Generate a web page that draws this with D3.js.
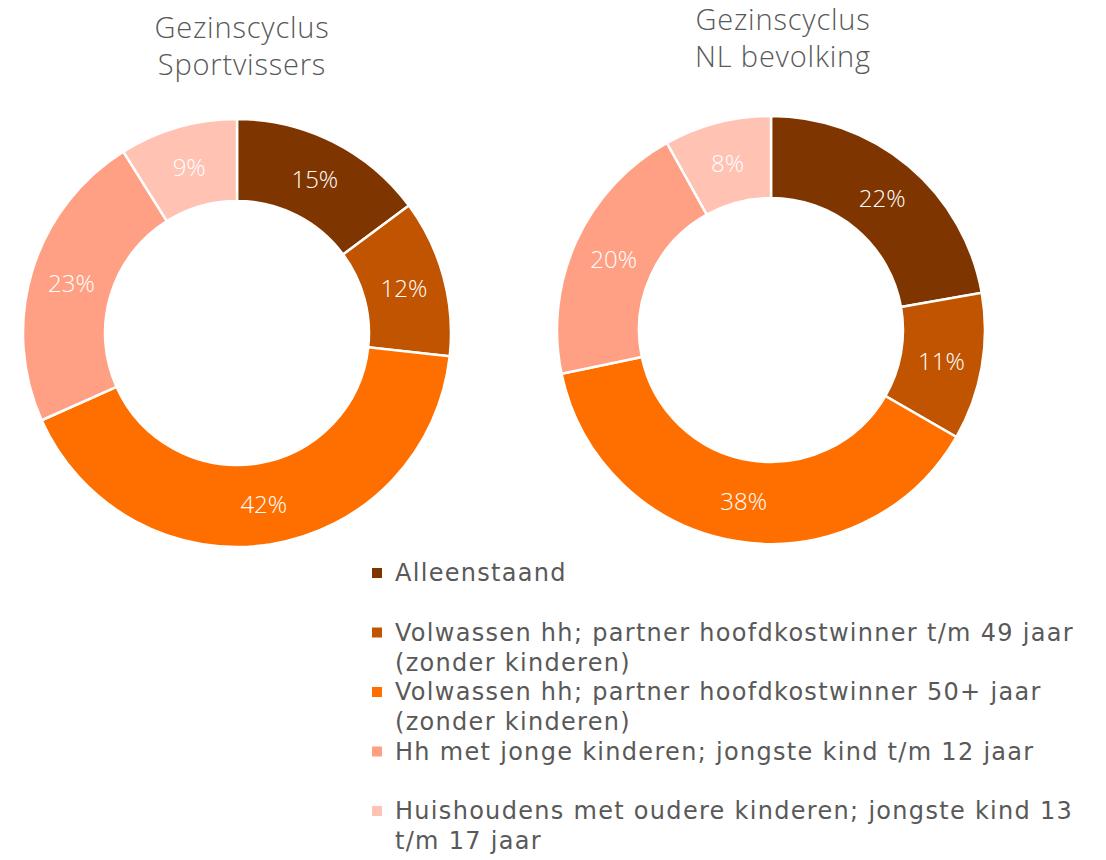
<!DOCTYPE html>
<html>
<head>
<meta charset="utf-8">
<script src="https://cdn.jsdelivr.net/npm/d3@7"></script>
<style>
  body { margin: 0; background: #fff; }
  text { font-family: "Open Sans", "DejaVu Sans", sans-serif; }
</style>
</head>
<body>
<svg id="chart"></svg>
<script>
// categories (legend), with the wrap points of the original legend
const categories = [
  'Alleenstaand',
  'Volwassen hh; partner hoofdkostwinner t/m 49 jaar\n(zonder kinderen)',
  'Volwassen hh; partner hoofdkostwinner 50+ jaar\n(zonder kinderen)',
  'Hh met jonge kinderen; jongste kind t/m 12 jaar',
  'Huishoudens met oudere kinderen; jongste kind 13\nt/m 17 jaar'
]
const colors = ['#7f3500', '#c15400', '#ff6f00', '#ffa084', '#ffc2b3']

const titles = [
  ['Gezinscyclus', 'Sportvissers'],
  ['Gezinscyclus', 'NL bevolking']
]
const sportvissers = [15, 12, 42, 23, 9]
const nlBevolking = [22, 11, 38, 20, 8]

const width = 1106
const height = 860
const svg = d3.select('#chart').attr('width', width).attr('height', height)

const outerR = 214
const innerR = 132

const donuts = [
  {cx: 237, cy: 333, titleX: 242, titleY: 26, values: sportvissers, title: titles[0]},
  {cx: 771, cy: 330, titleX: 783, titleY: 18, values: nlBevolking, title: titles[1]}
]

const pie = d3.pie().sort(null).value(d => d)
const arc = d3.arc().innerRadius(innerR).outerRadius(outerR)
const labelArc = d3.arc().innerRadius((innerR + outerR) / 2).outerRadius((innerR + outerR) / 2)

donuts.forEach(function (dn) {
  // titel
  svg.append('g')
    .selectAll('text')
    .data(dn.title)
    .join('text')
    .attr('x', dn.titleX)
    .attr('y', (d, i) => dn.titleY + i * 37)
    .attr('text-anchor', 'middle')
    .attr('dominant-baseline', 'central')
    .attr('fill', '#595959')
    .style('font-size', '29px')
    .style('font-weight', 300)
    .style('letter-spacing', '0.8px')
    .text(d => d)

  const g = svg.append('g').attr('transform', 'translate(' + dn.cx + ',' + dn.cy + ')')
  const arcs = pie(dn.values)

  g.selectAll('path')
    .data(arcs)
    .join('path')
    .attr('d', arc)
    .attr('fill', (d, i) => colors[i])
    .attr('stroke', '#fff')
    .attr('stroke-width', 2.5)

  g.selectAll('text')
    .data(arcs)
    .join('text')
    .attr('transform', d => 'translate(' + labelArc.centroid(d) + ')')
    .attr('text-anchor', 'middle')
    .attr('dominant-baseline', 'central')
    .attr('fill', '#fff')
    .style('font-size', '24px')
    .style('font-weight', 300)
    .text(d => d.data + '%')
})

// legenda
const legendX = 372
const legendY = d3.scaleLinear().domain([0, 4]).range([573, 811])
const leg = svg.append('g')
categories.forEach(function (c, i) {
  const y = legendY(i)
  leg.append('rect')
    .attr('x', legendX)
    .attr('y', y - 5)
    .attr('width', 10)
    .attr('height', 10)
    .attr('fill', colors[i])
  const t = leg.append('text')
    .attr('fill', '#595959')
    .style('font-family', '"DejaVu Sans", sans-serif')
    .style('font-size', '24px')
    .style('letter-spacing', '1.3px')
  c.split('\n').forEach(function (line, j) {
    t.append('tspan')
      .attr('x', legendX + 23)
      .attr('y', y + j * 30)
      .attr('dominant-baseline', 'central')
      .text(line)
  })
})
</script>
</body>
</html>
